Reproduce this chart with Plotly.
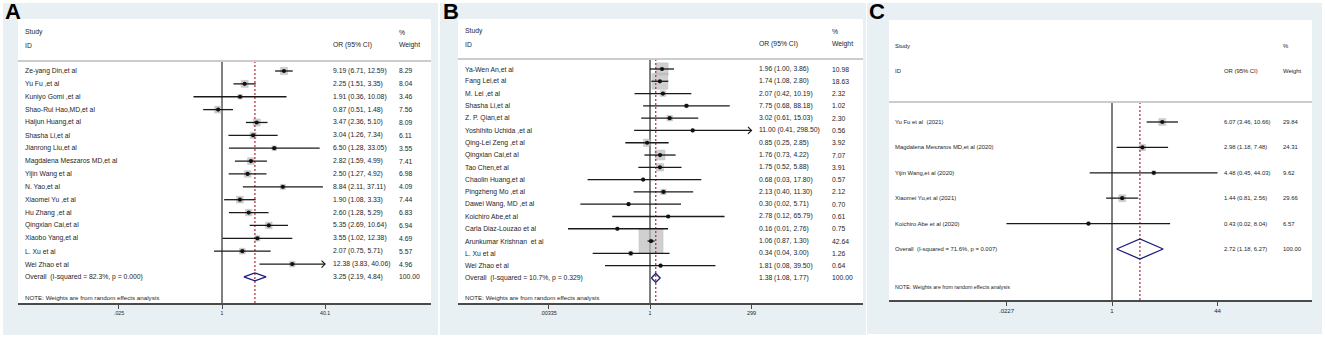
import numpy as np
import plotly.graph_objects as go

W, H = 1325, 338

# ---------------- DATA ----------------
labels_A = ["Ze-yang Din,et al", "Yu Fu ,et al", "Kuniyo Gomi ,et al", "Shao-Rui Hao,MD,et al",
            "Haijun Huang,et al", "Shasha Li,et al", "Jianrong Liu,et al", "Magdalena Meszaros MD,et al",
            "Yijin Wang et al", "N. Yao,et al", "Xiaomei Yu ,et al", "Hu Zhang ,et al",
            "Qingxian Cai,et al", "Xiaobo Yang,et al", "L. Xu et al", "Wei Zhao et al"]
or_A = [9.19, 2.25, 1.91, 0.87, 3.47, 3.04, 6.50, 2.82, 2.50, 8.84, 1.90, 2.60, 5.35, 3.55, 2.07, 12.38]
lo_A = [6.71, 1.51, 0.36, 0.51, 2.36, 1.26, 1.28, 1.59, 1.27, 2.11, 1.08, 1.28, 2.69, 1.02, 0.75, 3.83]
hi_A = [12.59, 3.35, 10.08, 1.48, 5.10, 7.34, 33.05, 4.99, 4.92, 37.11, 3.33, 5.29, 10.64, 12.38, 5.71, 40.06]
w_A = [8.29, 8.04, 3.46, 7.56, 8.09, 6.11, 3.55, 7.41, 6.98, 4.09, 7.44, 6.83, 6.94, 4.69, 5.57, 4.96]
overall_A = (3.25, 2.19, 4.84)
overall_label_A = "Overall  (I-squared = 82.3%, p = 0.000)"
ticks_A = [0.025, 1, 40.1]
ticklabels_A = [".025", "1", "40.1"]

labels_B = ["Ya-Wen An,et al", "Fang Lei,et al", "M. Lei ,et al", "Shasha Li,et al", "Z. P. Qian,et al",
            "Yoshihito Uchida ,et al", "Qing-Lei Zeng ,et al", "Qingxian Cai,et al", "Tao Chen,et al",
            "Chaolin Huang,et al", "Pingzheng Mo ,et al", "Dawei Wang, MD ,et al", "Koichiro Abe,et al",
            "Carla Diaz-Louzao et al", "Arunkumar Krishnan  et al", "L. Xu et al", "Wei Zhao et al"]
or_B = [1.96, 1.74, 2.07, 7.75, 3.02, 11.00, 0.85, 1.76, 1.75, 0.68, 2.13, 0.30, 2.78, 0.16, 1.06, 0.34, 1.81]
lo_B = [1.00, 1.08, 0.42, 0.68, 0.61, 0.41, 0.25, 0.73, 0.52, 0.03, 0.40, 0.02, 0.12, 0.01, 0.87, 0.04, 0.08]
hi_B = [3.86, 2.80, 10.19, 88.18, 15.03, 298.50, 2.85, 4.22, 5.88, 17.80, 11.30, 5.71, 65.79, 2.76, 1.30, 3.00, 39.50]
w_B = [10.98, 18.63, 2.32, 1.02, 2.30, 0.56, 3.92, 7.07, 3.91, 0.57, 2.12, 0.70, 0.61, 0.75, 42.64, 1.26, 0.64]
overall_B = (1.38, 1.08, 1.77)
overall_label_B = "Overall  (I-squared = 10.7%, p = 0.329)"
ticks_B = [0.00335, 1, 299]
ticklabels_B = [".00335", "1", "299"]

labels_C = ["Yu Fu et al  (2021)", "Magdalena Meszaros MD,et al (2020)", "Yijin Wang,et al (2020)",
            "Xiaomei Yu,et al (2021)", "Koichiro Abe et al (2020)"]
or_C = [6.07, 2.98, 4.48, 1.44, 0.43]
lo_C = [3.46, 1.18, 0.45, 0.81, 0.02]
hi_C = [10.66, 7.48, 44.03, 2.56, 8.04]
w_C = [29.84, 24.31, 9.62, 29.66, 6.57]
overall_C = (2.72, 1.18, 6.27)
overall_label_C = "Overall  (I-squared = 71.6%, p = 0.007)"
ticks_C = [0.0227, 1, 44]
ticklabels_C = [".0227", "1", "44"]

note_text = "NOTE: Weights are from random effects analysis"

# ---------------- LAYOUT / STYLE (pixels) ----------------
panels = [
    dict(letter="A", labels=labels_A, est=or_A, lo=lo_A, hi=hi_A, w=w_A, ov=overall_A, ovlab=overall_label_A,
         ticks=ticks_A, ticklabels=ticklabels_A,
         bg=(3, 438, 3, 335), white=(18, 431, 19, 303), letter_x=3,
         col_lab=23, col_or=331, col_w=397, y_study=32, y_id=45, y_sep=61, y0=71, dy=12.87, y_note=297,
         px1=222, perdec=64.3, box=2.45, dh=4.0, fs=6.8, tfs=5.2, arrows=True, clip=False),
    dict(letter="B", labels=labels_B, est=or_B, lo=lo_B, hi=hi_B, w=w_B, ov=overall_B, ovlab=overall_label_B,
         ticks=ticks_B, ticklabels=ticklabels_B,
         bg=(440, 866, 3, 335), white=(458, 863, 19, 303), letter_x=441,
         col_lab=463, col_or=757, col_w=830, y_study=31, y_id=44, y_sep=59, y0=69, dy=12.29, y_note=297,
         px1=650, perdec=41.0, box=3.67, dh=4.5, fs=6.8, tfs=5.4, arrows=True, clip=False),
    dict(letter="C", labels=labels_C, est=or_C, lo=lo_C, hi=hi_C, w=w_C, ov=overall_C, ovlab=overall_label_C,
         ticks=ticks_C, ticklabels=ticklabels_C,
         bg=(867, 1322, 3, 334), white=(889, 1312, 20, 300), letter_x=867,
         col_lab=893, col_or=1222, col_w=1281, y_study=46, y_id=71, y_sep=102, y0=122, dy=25.4, y_note=287,
         px1=1112, perdec=64.2, box=1.25, dh=10.0, fs=5.9, tfs=6.0, arrows=False, clip=True),
]

FONT = "Liberation Sans, Arial, Helvetica, sans-serif"
BG = "#e8f0f3"
TXT = "#1e1e1e"


def fx(px):
    return px / W


def fy(py):
    return 1 - py / H


fig = go.Figure()
shapes, annotations = [], []
layout_axes = {}

for k, p in enumerate(panels):
    sfx = "" if k == 0 else str(k + 1)
    xref, yref = "x" + sfx, "y" + sfx
    xl, xr, yt, yb = p["white"]
    n = len(p["labels"])
    dy, y0 = p["dy"], p["y0"]

    def row(py):
        return (py - y0) / dy

    rng_x = [-(p["px1"] - xl) / p["perdec"], (xr - p["px1"]) / p["perdec"]]
    layout_axes["xaxis" + sfx] = dict(
        type="log", domain=[fx(xl), fx(xr)], range=rng_x, anchor=yref,
        showgrid=False, zeroline=False, showline=True, linecolor="#4a4a4a", linewidth=1.5,
        ticks="outside", ticklen=4, tickwidth=1, tickcolor="#4a4a4a",
        tickvals=p["ticks"], ticktext=p["ticklabels"], tickfont=dict(size=p["tfs"], color=TXT, family=FONT),
        fixedrange=True)
    layout_axes["yaxis" + sfx] = dict(
        domain=[fy(yb), fy(yt)], range=[row(yb), row(yt)], anchor=xref, visible=False,
        showgrid=False, zeroline=False, fixedrange=True)

    # backgrounds
    bx0, bx1, by0, by1 = p["bg"]
    shapes.append(dict(type="rect", xref="paper", yref="paper", x0=fx(bx0), x1=fx(bx1), y0=fy(by1), y1=fy(by0),
                       fillcolor=BG, line=dict(width=0), layer="below"))
    shapes.append(dict(type="rect", xref="paper", yref="paper", x0=fx(xl), x1=fx(xr), y0=fy(yb), y1=fy(yt),
                       fillcolor="white", line=dict(width=0), layer="below"))
    shapes.append(dict(type="line", xref="paper", yref="paper", x0=fx(xl), x1=fx(xr),
                       y0=fy(p["y_sep"]), y1=fy(p["y_sep"]), line=dict(color="#cccccc", width=2)))

    rows = list(range(n))
    tmin, tmax = min(p["ticks"]), max(p["ticks"])
    lo = [max(v, tmin) if p["clip"] else v for v in p["lo"]]
    hi = [min(v, tmax) if p["clip"] else v for v in p["hi"]]

    # null line at 1 and overall dashed line
    ysep_r, ybot_r = row(p["y_sep"]), row(yb)
    fig.add_trace(go.Scatter(x=[1, 1], y=[ysep_r, ybot_r], mode="lines", xaxis=xref, yaxis=yref,
                             line=dict(color="#555555", width=1.5), hoverinfo="skip"))

    # boxes
    fig.add_trace(go.Scatter(x=p["est"], y=rows, mode="markers", xaxis=xref, yaxis=yref,
                             marker=dict(symbol="square", size=[p["box"] * np.sqrt(v) for v in p["w"]],
                                         color="#bdbdbd", line=dict(color="#a6a6a6", width=0.6)),
                             hoverinfo="skip"))
    fig.add_trace(go.Scatter(x=[p["ov"][0], p["ov"][0]], y=[ysep_r, ybot_r], mode="lines", xaxis=xref, yaxis=yref,
                             line=dict(color="#b03a48", width=1.3, dash="2px,2px"), hoverinfo="skip"))

    # CI lines
    cx, cy = [], []
    for r, a, b in zip(rows, lo, hi):
        cx += [a, b, None]
        cy += [r, r, None]
    fig.add_trace(go.Scatter(x=cx, y=cy, mode="lines", xaxis=xref, yaxis=yref,
                             line=dict(color="#1a1a1a", width=1.3), hoverinfo="skip", connectgaps=False))

    # arrows for CIs reaching the axis limit
    if p["arrows"]:
        ax_, ay_ = [], []
        f = 10 ** (3.5 / p["perdec"])
        for r, b in zip(rows, p["hi"]):
            if b >= 0.99 * tmax:
                ax_ += [b / f, b, b / f, None]
                ay_ += [r - 3.5 / dy, r, r + 3.5 / dy, None]
        fig.add_trace(go.Scatter(x=ax_, y=ay_, mode="lines", xaxis=xref, yaxis=yref,
                                 line=dict(color="#1a1a1a", width=1.2), hoverinfo="skip"))

    # points
    fig.add_trace(go.Scatter(x=p["est"], y=rows, mode="markers", xaxis=xref, yaxis=yref,
                             marker=dict(symbol="circle", size=4.2, color="#111111"), hoverinfo="skip"))

    # overall diamond
    est, dlo, dhi = p["ov"]
    hh = p["dh"] / dy
    fig.add_trace(go.Scatter(x=[dlo, est, dhi, est, dlo], y=[n - 0, n - hh, n, n + hh, n],
                             mode="lines", xaxis=xref, yaxis=yref,
                             line=dict(color="#1c1c7a", width=1.3), hoverinfo="skip"))

    # texts
    def txt(x, py, s, size=None, **kw):
        annotations.append(dict(x=fx(x), y=fy(py), xref="paper", yref="paper", text=s, showarrow=False,
                                xanchor="left", yanchor="middle",
                                font=dict(size=size or p["fs"], color=TXT, family=FONT), **kw))

    txt(p["col_lab"], p["y_study"], "Study")
    txt(p["col_lab"], p["y_id"], "ID")
    txt(p["col_or"], p["y_id"], "OR (95% CI)")
    txt(p["col_w"], p["y_study"], "%")
    txt(p["col_w"], p["y_id"], "Weight")
    for r in rows:
        py = y0 + r * dy
        txt(p["col_lab"], py, p["labels"][r])
        txt(p["col_or"], py, f"{p['est'][r]:.2f} ({p['lo'][r]:.2f}, {p['hi'][r]:.2f})")
        txt(p["col_w"], py, f"{p['w'][r]:.2f}")
    py = y0 + n * dy
    txt(p["col_lab"], py, p["ovlab"])
    txt(p["col_or"], py, f"{est:.2f} ({dlo:.2f}, {dhi:.2f})")
    txt(p["col_w"], py, "100.00")
    txt(p["col_lab"], p["y_note"], note_text, size=p["fs"] - 0.6)

    annotations.append(dict(x=fx(p["letter_x"]), y=fy(12), xref="paper", yref="paper", text="<b>%s</b>" % p["letter"],
                            showarrow=False, xanchor="left", yanchor="middle",
                            font=dict(size=22, color="black", family=FONT)))

fig.update_layout(
    width=W, height=H, margin=dict(l=0, r=0, t=0, b=0),
    paper_bgcolor="white", plot_bgcolor="rgba(0,0,0,0)",
    showlegend=False, shapes=shapes, annotations=annotations, hovermode=False,
    **layout_axes)

fig.write_html("out.html", config={"displayModeBar": False},
               post_script="document.body.style.margin='0px';document.body.style.overflow='hidden';")
